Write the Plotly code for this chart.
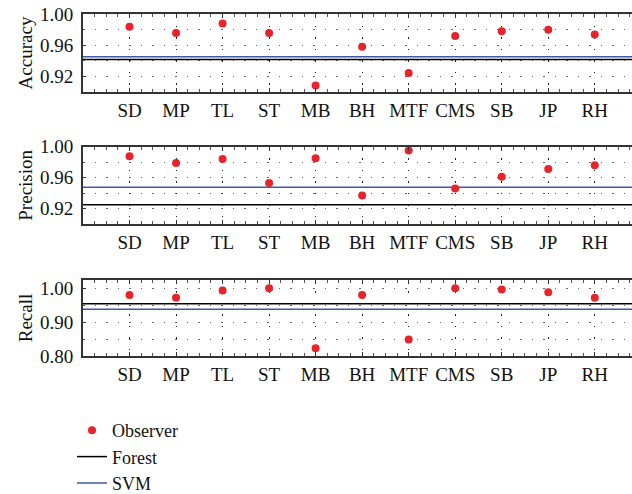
import plotly.graph_objects as go

categories = ["SD", "MP", "TL", "ST", "MB", "BH", "MTF", "CMS", "SB", "JP", "RH"]

accuracy_observer = [0.984, 0.976, 0.988, 0.976, 0.908, 0.958, 0.924, 0.972, 0.978, 0.980, 0.974]
accuracy_forest = 0.9415
accuracy_svm = 0.945

precision_observer = [0.9875, 0.979, 0.984, 0.953, 0.985, 0.937, 0.995, 0.946, 0.961, 0.971, 0.976]
precision_forest = 0.925
precision_svm = 0.9476

recall_observer = [0.980, 0.972, 0.993, 1.000, 0.824, 0.980, 0.849, 1.000, 0.996, 0.988, 0.972]
recall_forest = 0.954
recall_svm = 0.938

panels = [
    ("Accuracy", accuracy_observer, accuracy_forest, accuracy_svm, [0.9, 1.0], 0.92, 0.04, 0.02),
    ("Precision", precision_observer, precision_forest, precision_svm, [0.9, 1.0], 0.92, 0.04, 0.02),
    ("Recall", recall_observer, recall_forest, recall_svm, [0.8, 1.025], 0.8, 0.1, 0.05),
]

H = 494.0
px_domains = [(14.3, 91.7), (146.7, 224.0), (279.7, 356.3)]

FONT = "Liberation Serif"
FS = 19
RED = "#e8242b"
BLUE = "#4058a8"
GRID = "#666666"
DOTS = "1.5px,10px"

xpos = list(range(1, len(categories) + 1))

fig = go.Figure()
layout = dict(
    width=632, height=494,
    margin=dict(l=83, r=0, t=0, b=0, autoexpand=False),
    paper_bgcolor="white", plot_bgcolor="white",
    font=dict(family=FONT, size=FS, color="#111"),
    showlegend=True,
    legend=dict(x=-0.02, xanchor="left", y=1 - 412 / H, yanchor="top",
                bgcolor="rgba(0,0,0,0)", tracegroupgap=0,
                font=dict(family=FONT, size=18, color="#111")),
)

for i, (name, obs, forest, svm, yr, t0, dt, mdt) in enumerate(panels):
    k = "" if i == 0 else str(i + 1)
    xa, ya = "x" + k, "y" + k
    first = i == 0
    fig.add_trace(go.Scatter(x=[0, 12], y=[forest, forest], mode="lines",
                             line=dict(color="black", width=1.5), name="Forest",
                             showlegend=first, xaxis=xa, yaxis=ya, legendrank=2))
    fig.add_trace(go.Scatter(x=[0, 12], y=[svm, svm], mode="lines",
                             line=dict(color=BLUE, width=1.5), name="SVM",
                             showlegend=first, xaxis=xa, yaxis=ya, legendrank=3))
    fig.add_trace(go.Scatter(x=xpos, y=obs, mode="markers",
                             marker=dict(color=RED, size=8), name="Observer",
                             showlegend=first, xaxis=xa, yaxis=ya, legendrank=1))
    top, bot = px_domains[i]
    layout["xaxis" + k] = dict(
        domain=[0, 1], anchor=ya, range=[0, 11.8],
        tickmode="array", tickvals=xpos, ticktext=categories,
        showline=True, linecolor="#333", linewidth=2, mirror="allticks",
        ticks="inside", ticklen=4, tickcolor="#333",
        minor=dict(ticks="inside", ticklen=3, dtick=0.25, tick0=0, tickcolor="#555", showgrid=False),
        showgrid=True, gridcolor="#222", gridwidth=1, griddash=DOTS,
        zeroline=False, tickfont=dict(family=FONT, size=FS, color="#111"),
        ticklabelstandoff=0, automargin=False,
    )
    layout["yaxis" + k] = dict(
        domain=[1 - bot / H, 1 - top / H], anchor=xa, range=yr,
        tickmode="linear", tick0=t0, dtick=dt, tickformat=".2f",
        showline=True, linecolor="#333", linewidth=2, mirror=False,
        ticks="inside", ticklen=3, tickcolor="#333",
        minor=dict(ticks="inside", ticklen=2, dtick=mdt, tick0=t0, tickcolor="#555",
                   showgrid=True, gridcolor=GRID, gridwidth=1, griddash=DOTS),
        showgrid=True, gridcolor=GRID, gridwidth=1, griddash=DOTS,
        zeroline=False, tickfont=dict(family=FONT, size=FS, color="#111"),
        title=dict(text=name, font=dict(family=FONT, size=FS, color="#111"), standoff=2),
        ticklabelstandoff=4, automargin=False,
    )

fig.update_layout(**layout)
fig.write_html("out.html", config={"displayModeBar": False},
               post_script="document.body.style.margin='0';document.body.style.padding='0';")
